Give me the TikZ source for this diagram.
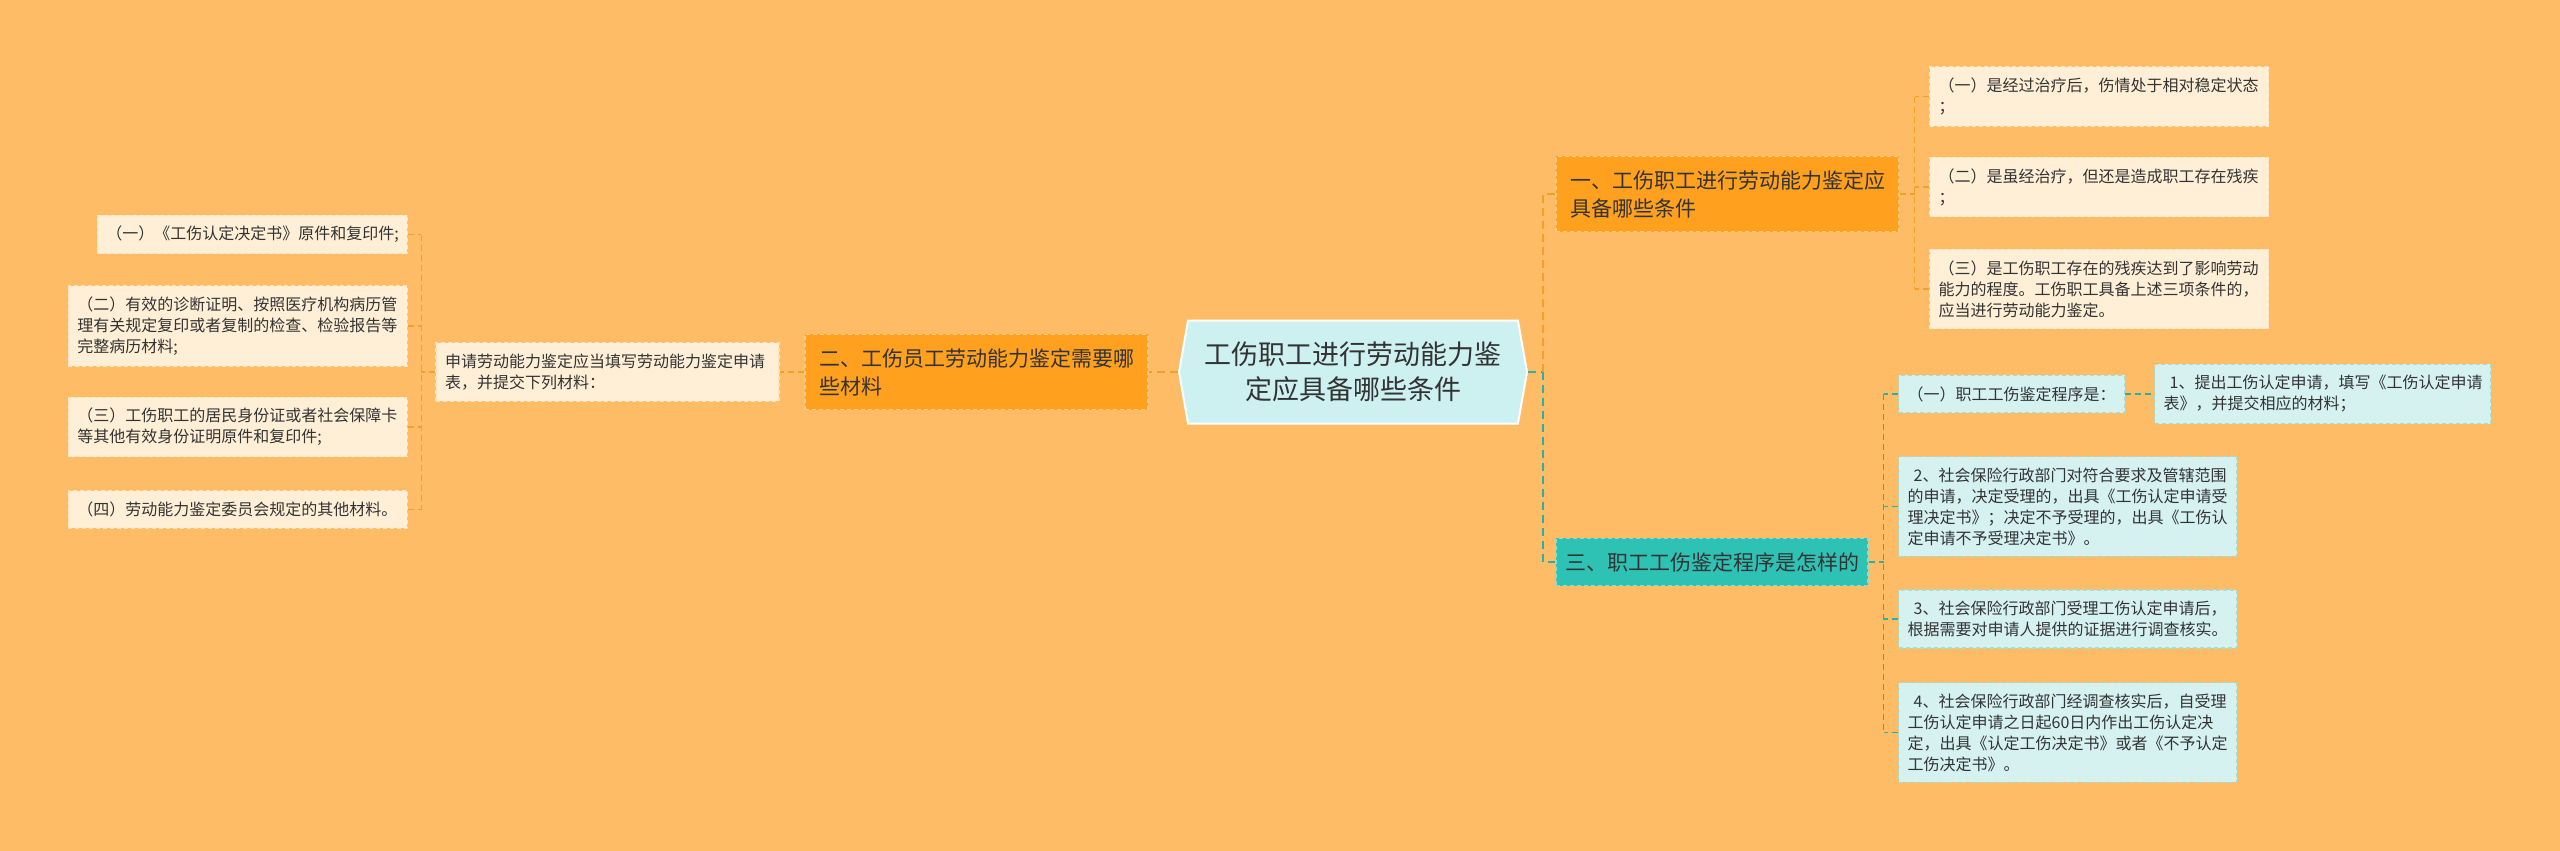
\documentclass[tikz,border=0pt]{standalone}
\usepackage{fontspec}
\newfontfamily\cjk{Noto Sans CJK SC}
\usepackage{tikz}
\usetikzlibrary{shapes.symbols, calc}
\definecolor{bgorange}{RGB}{255, 188, 102}
\definecolor{brorange}{RGB}{255, 161, 30}
\definecolor{brteal}{RGB}{46, 194, 180}
\definecolor{leafcream}{RGB}{255, 239, 214}
\definecolor{leafcyan}{RGB}{213, 242, 240}
\definecolor{hubcyan}{RGB}{205, 241, 240}
\definecolor{lnorange}{RGB}{245, 158, 40}
\definecolor{lnteal}{RGB}{40, 178, 163}
\definecolor{inkdark}{RGB}{51, 51, 51}
\newcommand{\ind}{\hspace*{3pt}}
\tikzset{
    hub/.style    ={signal, signal to=east and west, signal pointer angle=160,
                    draw=white, line width=1pt, fill=hubcyan,
                    minimum width=174pt, minimum height=51.5pt, inner sep=0pt,
                    align=center, text=inkdark,
                    font=\cjk\fontsize{13.5}{17.5}\selectfont},
    branch/.style ={draw=brorange!55!white, dash pattern=on 2pt off 1.5pt,
                    line width=0.6pt, fill=brorange, align=left, text=inkdark,
                    font=\cjk\fontsize{10.5}{14}\selectfont,
                    inner xsep=7pt, inner ysep=7pt},
    brancht/.style={branch, draw=brteal!55!white, fill=brteal},
    leaf/.style   ={draw=leafcream!75!bgorange, dash pattern=on 2pt off 1.5pt,
                    line width=0.6pt, fill=leafcream, align=left, text=inkdark,
                    font=\cjk\fontsize{8}{10.5}\selectfont,
                    text width=160.5pt, inner xsep=4.5pt, inner ysep=5.5pt},
    leaft/.style  ={leaf, draw=leafcyan!70!lnteal, fill=leafcyan},
    mainO/.style  ={draw=lnorange, line width=1.3pt, dash pattern=on 4pt off 2.5pt},
    mainT/.style  ={mainO, draw=lnteal},
    linkO/.style  ={draw=lnorange, line width=0.7pt, dash pattern=on 3pt off 2pt},
    linkT/.style  ={linkO, draw=lnteal}
}

\begin{document}
\begin{tikzpicture}[x=0.5pt, y=-0.5pt]

  % ---- canvas
  \fill[bgorange] (0,0) rectangle (2560,851);
  \useasboundingbox (0,0) rectangle (2560,851);

  % ---- central topic
  \node[hub] (hub) at (1353,372)
       {工伤职工进行劳动能力鉴\\定应具备哪些条件};

  % ---- main branches
  \node[branch, text width=157.5pt] (b2) at (976.5,372)
       {二、工伤员工劳动能力鉴定需要哪\\些材料};
  \node[branch, text width=157.5pt] (b1) at (1727.5,194)
       {一、工伤职工进行劳动能力鉴定应\\具备哪些条件};
  \node[brancht, inner xsep=4.5pt] (b3) at (1712,562)
       {三、职工工伤鉴定程序是怎样的};

  % ---- left side: materials
  \node[leaf, text width=162.5pt] (req) at (607.5,372)
       {申请劳动能力鉴定应当填写劳动能力鉴定申请\\表，并提交下列材料：};
  \node[leaf, anchor=east, text width=146pt] (L1) at (408,234.5)
       {（一）《工伤认定决定书》原件和复印件;};
  \node[leaf, anchor=east] (L2) at (408,326)
       {（二）有效的诊断证明、按照医疗机构病历管\\理有关规定复印或者复制的检查、检验报告等\\完整病历材料;};
  \node[leaf, anchor=east] (L3) at (408,427)
       {（三）工伤职工的居民身份证或者社会保障卡\\等其他有效身份证明原件和复印件;};
  \node[leaf, anchor=east] (L4) at (408,509.5)
       {（四）劳动能力鉴定委员会规定的其他材料。};

  % ---- right side: conditions
  \node[leaf, anchor=west] (R1) at (1929,96.5)
       {（一）是经过治疗后，伤情处于相对稳定状态\\；};
  \node[leaf, anchor=west] (R2) at (1929,187)
       {（二）是虽经治疗，但还是造成职工存在残疾\\；};
  \node[leaf, anchor=west] (R3) at (1929,289)
       {（三）是工伤职工存在的残疾达到了影响劳动\\能力的程度。工伤职工具备上述三项条件的，\\应当进行劳动能力鉴定。};

  % ---- right side: procedure
  \node[leaft, anchor=west, text width=104pt] (C1) at (1898,394)
       {（一）职工工伤鉴定程序是：};
  \node[leaft, anchor=west, text width=159pt] (C1a) at (2154,394)
       {\ind 1、提出工伤认定申请，填写《工伤认定申请\\表》，并提交相应的材料；};
  \node[leaft, anchor=west, text width=160pt] (C2) at (1898,506.5)
       {\ind 2、社会保险行政部门对符合要求及管辖范围\\的申请，决定受理的，出具《工伤认定申请受\\理决定书》；决定不予受理的，出具《工伤认\\定申请不予受理决定书》。};
  \node[leaft, anchor=west, text width=160pt] (C3) at (1898,619)
       {\ind 3、社会保险行政部门受理工伤认定申请后，\\根据需要对申请人提供的证据进行调查核实。};
  \node[leaft, anchor=west, text width=160pt] (C4) at (1898,732.5)
       {\ind 4、社会保险行政部门经调查核实后，自受理\\工伤认定申请之日起60日内作出工伤认定决\\定，出具《认定工伤决定书》或者《不予认定\\工伤决定书》。};

  % ---- junctions
  \coordinate (jl) at ($(req.west)+(-14,0)$);
  \coordinate (jr) at ($(hub.east)+(15,0)$);
  \coordinate (ja) at ($(b1.east)+(15,0)$);
  \coordinate (jb) at ($(b3.east)+(15,0)$);

  % ---- connectors, left
  \draw[mainO] (hub.west) -- (b2.east);
  \draw[linkO] (b2.west) -- (req.east);
  \draw[linkO] (req.west) -- (jl);
  \draw[linkO] (L1.east -| jl) -- (L4.east -| jl);
  \foreach \n in {1,...,4}
    \draw[linkO] (L\n.east) -- (L\n.east -| jl);

  % ---- connectors, right
  \draw[mainT] (hub.east) -- (jr);
  \draw[mainO] (jr) |- (b1.west);
  \draw[mainT] (jr) |- (b3.west);

  \draw[linkO] (b1.east) -- (ja);
  \draw[linkO] (R1.west -| ja) -- (R3.west -| ja);
  \foreach \n in {1,...,3}
    \draw[linkO] (R\n.west) -- (R\n.west -| ja);

  \draw[linkT] (b3.east) -- (jb);
  \draw[linkT] (C1.west -| jb) -- (C4.west -| jb);
  \foreach \n in {C1,C2,C3,C4}
    \draw[linkT] (\n.west) -- (\n.west -| jb);
  \draw[linkT] (C1.east) -- (C1a.west);
\end{tikzpicture}
\end{document}
